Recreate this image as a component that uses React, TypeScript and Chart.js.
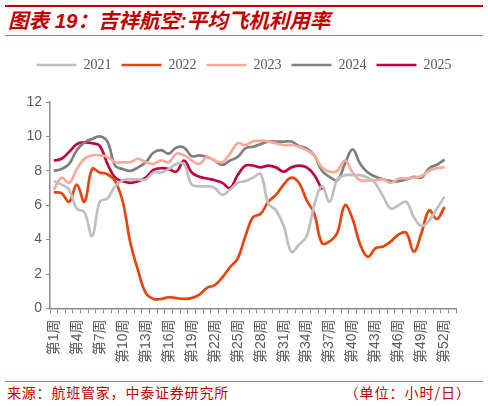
import React, { useEffect, useRef } from "react";
import { Chart, registerables } from "chart.js";

Chart.register(...registerables);

const weekLabels: string[] = Array.from({ length: 53 }, (_, i) => `第${i + 1}周`);

const series2021: (number | null)[] = [
  7.4, 7.2, 6.9, 5.8, 5.6, 4.2, 6.2, 6.4, 7.1, 7.45, 7.5, 7.5, 7.5, 7.9, 7.9, 8.1, 8.4, 8.4, 7.2, 7.1,
  7.1, 7.0, 6.6, 6.9, 7.3, 7.4, 7.6, 7.8, 6.1, 5.7, 4.8, 3.3, 3.7, 4.2, 6.0, 7.1, 6.2, 7.5, 7.75, 7.75,
  7.75, 7.6, 7.25, 6.5, 5.8, 6.0, 6.2, 5.3, 4.8, 5.1, 5.8, 6.5, null,
];
const series2022: (number | null)[] = [
  6.75, 6.7, 6.2, 7.2, 6.2, 8.1, 7.9, 7.8, 7.4, 6.2, 3.8, 2.2, 0.9, 0.55, 0.55, 0.65, 0.6, 0.55, 0.6, 0.8,
  1.2, 1.35, 1.8, 2.4, 2.9, 4.2, 5.3, 5.5, 6.2, 6.6, 7.2, 7.6, 7.3, 6.3, 5.5, 3.8, 3.9, 4.4, 6.0, 5.2,
  3.7, 3.0, 3.5, 3.6, 3.9, 4.3, 4.4, 3.3, 4.4, 5.7, 5.2, 5.9, null,
];
const series2023: (number | null)[] = [
  6.9, 7.6, 7.3, 8.1, 8.7, 8.9, 8.9, 8.8, 8.5, 8.5, 8.5, 8.7, 8.5, 8.4, 8.6, 8.5, 9.0, 8.9, 8.6, 8.4,
  8.8, 8.6, 8.5, 9.0, 9.6, 9.5, 9.7, 9.75, 9.7, 9.6, 9.5, 9.5, 9.4, 9.2, 8.9, 8.2, 7.95, 8.0, 8.6, 7.9,
  7.45, 7.45, 7.45, 7.5, 7.3, 7.55, 7.55, 7.6, 7.7, 8.0, 8.15, 8.2, null,
];
const series2024: (number | null)[] = [
  8.0, 8.1, 8.4, 9.2, 9.65, 9.85, 10.0, 9.7, 8.3, 8.1, 8.0, 8.2, 8.5, 9.05, 9.2, 9.0, 9.35, 9.35, 8.85, 8.9,
  8.8, 8.6, 8.35, 8.6, 8.8, 9.3, 9.4, 9.55, 9.7, 9.7, 9.7, 9.7, 9.45, 9.3, 8.9, 8.0, 7.65, 7.45, 8.4, 9.25,
  8.4, 7.9, 7.65, 7.5, 7.4, 7.4, 7.5, 7.65, 7.6, 8.15, 8.35, 8.65, null,
];
const series2025: (number | null)[] = [
  8.6, 8.7, 9.1, 9.55, 9.65, 9.6, 9.45, 8.4, 7.6, 7.4, 7.3, 7.4, 7.6, 8.05, 8.15, 8.1, 7.95, 8.6, 7.9, 7.65,
  7.55, 7.45, 7.3, 7.0, 7.75, 8.3, 8.3, 8.2, 8.3, 8.2, 7.95, 8.2, 8.3, 8.2, 7.75, 6.9,
];

const seriesNames = ["2021", "2022", "2023", "2024", "2025"];
const seriesColors = ["#BFBFBF", "#E8440C", "#F8A999", "#7F7F7F", "#C2003F"];
const yTicks = [0, 2, 4, 6, 8, 10, 12];

const RED = "#C00000";

function ChartView() {
  const ref = useRef<HTMLCanvasElement | null>(null);
  useEffect(() => {
    if (!ref.current) return;
    const all = [series2021, series2022, series2023, series2024, series2025];
    const legendSpacing = {
      id: "legendSpacing",
      beforeInit(chart: any) {
        const legend = chart.legend;
        if (!legend) return;
        const fit = legend.fit;
        legend.fit = function () {
          fit.call(this);
          this.height += 20;
        };
      },
    };
    const chart = new Chart(ref.current, {
      type: "line",
      data: {
        labels: weekLabels,
        datasets: all.map((d, i) => ({
          label: seriesNames[i],
          data: d,
          borderColor: seriesColors[i],
          backgroundColor: seriesColors[i],
          borderWidth: 2.7,
          pointRadius: 0,
          pointHoverRadius: 0,
          tension: 0.4,
          fill: false,
          spanGaps: false,
        })),
      },
      options: {
        animation: false,
        responsive: true,
        maintainAspectRatio: false,
        layout: { padding: { left: 0, right: 0, top: 8, bottom: 11 } },
        plugins: {
          tooltip: { enabled: false },
          legend: {
            position: "top",
            labels: {
              usePointStyle: true,
              pointStyle: "line",
              pointStyleWidth: 40,
              boxHeight: 10,
              padding: 10,
              color: "#595959",
              font: { family: "'Liberation Serif', 'DejaVu Serif', serif", size: 14 },
            },
          },
        },
        scales: {
          x: {
            type: "category",
            offset: true,
            grid: {
              offset: true,
              drawOnChartArea: false,
              drawTicks: true,
              tickLength: 5,
              color: "#8C8C8C",
              lineWidth: 1,
            },
            border: { display: true, color: "#8C8C8C", width: 1.5 },
            ticks: {
              autoSkip: false,
              maxRotation: 90,
              minRotation: 90,
              padding: 6,
              color: "#595959",
              font: { family: "'Liberation Sans', 'Noto Sans CJK SC', sans-serif", size: 14 },
              callback: (_v: any, i: number) => (i % 3 === 0 ? weekLabels[i] : ""),
            },
          },
          y: {
            min: 0,
            max: 12,
            afterBuildTicks: (scale: any) => {
              scale.ticks = yTicks.map((v) => ({ value: v }));
            },
            afterFit: (scale: any) => {
              scale.width = 50;
            },
            grid: {
              drawOnChartArea: false,
              drawTicks: true,
              tickLength: 4,
              color: "#8C8C8C",
            },
            border: { display: true, color: "#8C8C8C", width: 1.5 },
            ticks: {
              padding: 4,
              color: "#595959",
              font: { family: "'Liberation Sans', Arial, sans-serif", size: 14 },
            },
          },
          yRightSpace: {
            type: "linear",
            position: "right",
            display: true,
            min: 0,
            max: 12,
            grid: { display: false, drawTicks: false },
            border: { display: false },
            ticks: { display: false },
            afterFit: (scale: any) => {
              scale.width = 32;
            },
          },
        },
      },
      plugins: [legendSpacing],
    } as any);
    return () => chart.destroy();
  }, []);
  return <canvas ref={ref} />;
}

export default function App() {
  return (
    <div
      style={{
        position: "absolute",
        left: 0,
        top: 0,
        width: 488,
        height: 406,
        background: "#fff",
        overflow: "hidden",
      }}
    >
      <div style={{ position: "absolute", left: 5, right: 5, top: 5, height: 2, background: RED }} />
      <div
        style={{
          position: "absolute",
          left: 8,
          top: 9,
          fontFamily: "'Liberation Sans', 'Noto Sans CJK SC', sans-serif",
          fontWeight: 700,
          fontStyle: "italic",
          fontSize: 20.5,
          lineHeight: "24px",
          color: RED,
          whiteSpace: "nowrap",
        }}
      >
        图表 19：吉祥航空:平均飞机利用率
      </div>
      <div style={{ position: "absolute", left: 5, right: 5, top: 35, height: 1, background: "#E06666" }} />
      <div style={{ position: "absolute", left: 0, top: 40, width: 488, height: 340 }}>
        <ChartView />
      </div>
      <div style={{ position: "absolute", left: 5, right: 5, top: 381, height: 1, background: "#E06666" }} />
      <div
        style={{
          position: "absolute",
          left: 7,
          top: 383,
          fontFamily: "'Noto Sans CJK SC', sans-serif",
          fontSize: 14,
          lineHeight: "18px",
          color: RED,
          letterSpacing: 0.8,
          whiteSpace: "nowrap",
        }}
      >
        来源：航班管家，中泰证券研究所
      </div>
      <div
        style={{
          position: "absolute",
          right: 17,
          top: 383,
          fontFamily: "'Noto Sans CJK SC', sans-serif",
          fontSize: 14,
          lineHeight: "18px",
          color: RED,
          letterSpacing: 1,
          whiteSpace: "nowrap",
        }}
      >
        （单位：小时/日）
      </div>
    </div>
  );
}
